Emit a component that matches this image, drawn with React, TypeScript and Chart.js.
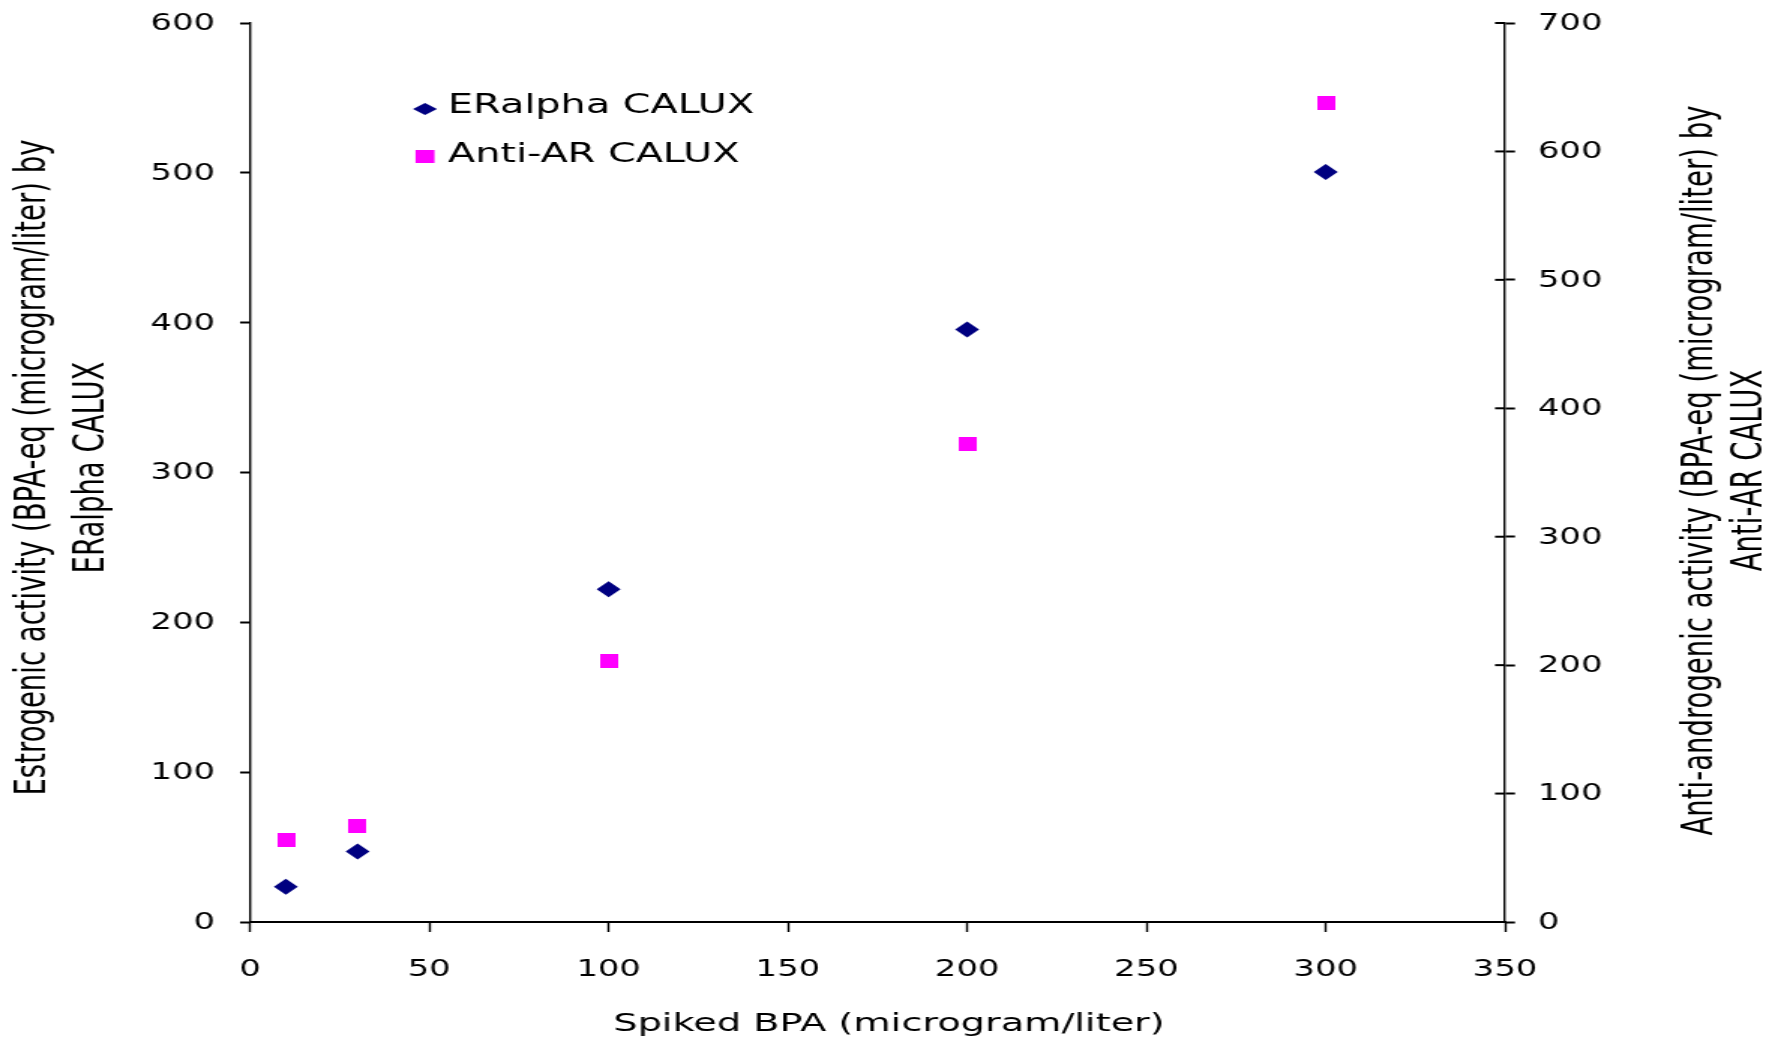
import React, { useEffect, useRef } from 'react';
import { Chart, registerables } from 'chart.js';

Chart.register(...registerables);

// ---- data ----
const spikedBPA = [10, 30, 100, 200, 300];
const eralphaValues = [23.5, 47, 222, 395.5, 500.5];
const antiARValues = [64, 75, 203, 372, 638];
const seriesNames = ['ERalpha CALUX', 'Anti-AR CALUX'];
const xTitle = 'Spiked BPA (microgram/liter)';
const leftTitle = ['Estrogenic activity (BPA-eq (microgram/liter) by', 'ERalpha CALUX'];
const rightTitle = ['Anti-androgenic activity (BPA-eq (microgram/liter) by', 'Anti-AR CALUX'];
const xRange = { min: 0, max: 350, step: 50 };
const leftRange = { min: 0, max: 600, step: 100 };
const rightRange = { min: 0, max: 700, step: 100 };

// ---- layout (the reference is horizontally stretched) ----
const CSS_W = 1781;
const CSS_H = 1042;
const INT_W = 1187;
const SX = CSS_W / INT_W;
const px = (fullX: number) => fullX / SX;

const FONT = '"DejaVu Sans", "Liberation Sans", Arial, sans-serif';
const NAVY = '#000080';
const MAGENTA = '#FF00FF';

function makeSquare(w: number, h: number, color: string) {
  const c = document.createElement('canvas');
  c.width = w;
  c.height = h;
  const g = c.getContext('2d')!;
  g.fillStyle = color;
  g.fillRect(0, 0, w, h);
  return c;
}

const decorPlugin = {
  id: 'decor',
  afterDraw(chart: any) {
    const { ctx, chartArea } = chart;
    const yR = chart.scales.y1;
    ctx.save();
    // inner halves of the right axis tick marks (they cross the axis)
    ctx.strokeStyle = '#000';
    ctx.lineWidth = 2;
    for (const t of yR.ticks) {
      const py = yR.getPixelForValue(t.value);
      ctx.beginPath();
      ctx.moveTo(chartArea.right - px(10), py);
      ctx.lineTo(chartArea.right, py);
      ctx.stroke();
    }

    // rotated axis titles (both read bottom-to-top)
    const fs = 27.5;
    ctx.fillStyle = '#000';
    ctx.font = `${fs}px ${FONT}`;
    ctx.textAlign = 'center';
    ctx.textBaseline = 'alphabetic';
    const capUp = 0.3645 * fs;
    const yMid = (chartArea.top + chartArea.bottom) / 2;
    const drawV = (text: string, capCenterX: number, cy: number) => {
      ctx.save();
      ctx.translate(capCenterX + capUp, cy);
      ctx.rotate(-Math.PI / 2);
      ctx.fillText(text, 0, 0);
      ctx.restore();
    };
    drawV(leftTitle[0], px(30), yMid - 5);
    drawV(leftTitle[1], px(89), yMid - 5);
    drawV(rightTitle[0], px(1697), yMid - 2);
    drawV(rightTitle[1], px(1747), yMid - 2);

    // x axis title
    const xfs = 25.5;
    ctx.font = `${xfs}px ${FONT}`;
    ctx.fillText(xTitle, px(889), 1022 + 0.3645 * xfs);

    // legend inside the plot area
    ctx.font = `26.5px ${FONT}`;
    ctx.textAlign = 'left';
    const ds = chart.data.datasets;
    const textX = px(448);
    const markX = px(425);
    // diamond
    ctx.fillStyle = ds[0].backgroundColor;
    ctx.beginPath();
    ctx.moveTo(markX - px(12), 109);
    ctx.lineTo(markX, 103);
    ctx.lineTo(markX + px(12), 109);
    ctx.lineTo(markX, 115);
    ctx.closePath();
    ctx.fill();
    // square
    ctx.fillStyle = ds[1].borderColor;
    ctx.fillRect(markX - px(9.5), 150, px(19), 13);
    ctx.fillStyle = '#000';
    ctx.fillText(seriesNames[0], textX, 112.5);
    ctx.fillText(seriesNames[1], textX, 161.5);
    ctx.restore();
  },
};

export default function App() {
  const ref = useRef<HTMLCanvasElement | null>(null);

  useEffect(() => {
    if (!ref.current) return;
    const square = makeSquare(12, 14, MAGENTA);
    const tickFont = { family: FONT, size: 22.5 };
    const chart = new Chart(ref.current, {
      type: 'scatter',
      data: {
        datasets: [
          {
            label: seriesNames[0],
            data: spikedBPA.map((x, i) => ({ x, y: eralphaValues[i] })),
            yAxisID: 'y',
            pointStyle: 'rectRot',
            pointRadius: 8,
            pointHoverRadius: 8,
            borderWidth: 0,
            backgroundColor: NAVY,
            borderColor: NAVY,
            showLine: false,
          },
          {
            label: seriesNames[1],
            data: spikedBPA.map((x, i) => ({ x, y: antiARValues[i] })),
            yAxisID: 'y1',
            pointStyle: square as any,
            pointRadius: 7,
            borderWidth: 0,
            backgroundColor: MAGENTA,
            borderColor: MAGENTA,
            showLine: false,
          },
        ],
      },
      options: {
        responsive: false,
        animation: false,
        devicePixelRatio: 1,
        layout: { padding: { top: 23, left: 0, right: 0, bottom: 0 } },
        plugins: {
          legend: { display: false },
          tooltip: { enabled: false },
        },
        scales: {
          x: {
            type: 'linear',
            position: 'bottom',
            min: xRange.min,
            max: xRange.max,
            ticks: { stepSize: xRange.step, font: tickFont, color: '#000', padding: 25 },
            grid: {
              drawOnChartArea: false,
              drawTicks: true,
              tickLength: 10,
              tickColor: '#000',
              tickWidth: 1.4,
            },
            border: { color: '#000', width: 2 },
            title: { display: false },
            afterFit: (s: any) => {
              s.height = CSS_H - 922;
            },
          },
          y: {
            type: 'linear',
            position: 'left',
            min: leftRange.min,
            max: leftRange.max,
            ticks: {
              stepSize: leftRange.step,
              font: tickFont,
              color: '#000',
              padding: px(25),
              labelOffset: 1,
            },
            grid: {
              drawOnChartArea: false,
              drawTicks: true,
              tickLength: px(10),
              tickColor: '#000',
              tickWidth: 2,
            },
            border: { color: '#000', width: 1.4 },
            afterFit: (s: any) => {
              s.width = px(250);
              s.paddingTop = 0;
              s.paddingBottom = 0;
            },
          },
          y1: {
            type: 'linear',
            position: 'right',
            min: rightRange.min,
            max: rightRange.max,
            ticks: {
              stepSize: rightRange.step,
              font: tickFont,
              color: '#000',
              padding: px(23),
              labelOffset: 1,
            },
            grid: {
              drawOnChartArea: false,
              drawTicks: true,
              tickLength: px(10),
              tickColor: '#000',
              tickWidth: 2,
            },
            border: { color: '#000', width: 1.4 },
            afterFit: (s: any) => {
              s.width = INT_W - px(1505);
              s.paddingTop = 0;
              s.paddingBottom = 0;
            },
          },
        },
      } as any,
      plugins: [decorPlugin],
    });
    return () => chart.destroy();
  }, []);

  return (
    <div style={{ position: 'absolute', left: 0, top: 0, width: CSS_W, height: CSS_H, background: '#fff' }}>
      <canvas
        ref={ref}
        width={INT_W}
        height={CSS_H}
        style={{ width: `${CSS_W}px`, height: `${CSS_H}px`, display: 'block' }}
      />
    </div>
  );
}
